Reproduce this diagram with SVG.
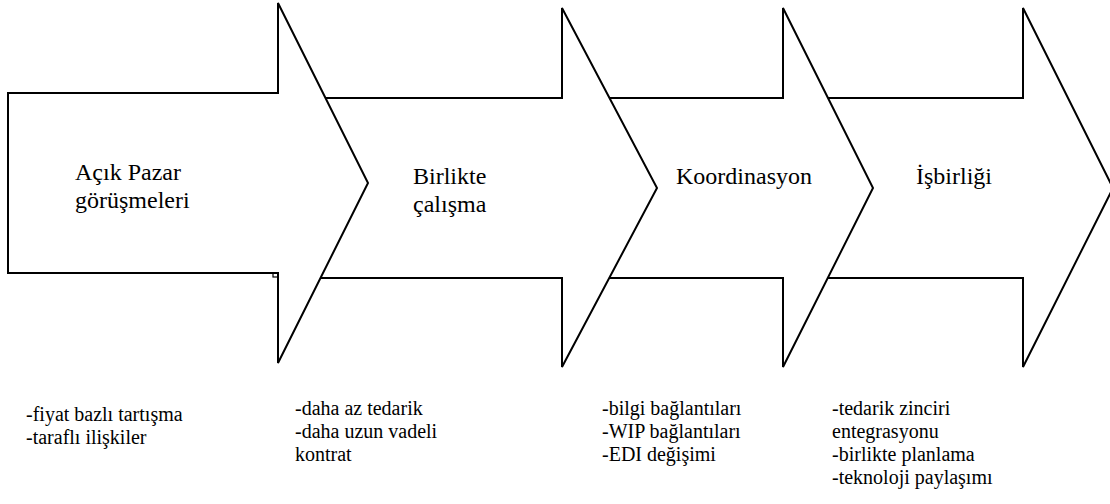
<svg xmlns="http://www.w3.org/2000/svg" width="1110" height="504" viewBox="0 0 1110 504">
  <style>
    .arrow { fill: #ffffff; stroke: #000000; stroke-width: 2; stroke-linejoin: miter; }
    .label { font-family: "Liberation Serif", Tinos, "Times New Roman", serif; font-size: 24px; fill: #000000; }
    .note { font-family: "Liberation Serif", Tinos, "Times New Roman", serif; font-size: 20px; fill: #000000; }
  </style>
  <rect width="1110" height="504" fill="#ffffff"/>

  <!-- stages drawn right to left so each arrow overlaps the next one -->
  <g id="stage-isbirligi">
    <path class="arrow" d="M800,98 H1023 V8 L1113,188 L1023,367 V278 H800 Z"/>
    <text class="label" x="916" y="184">İşbirliği</text>
  </g>

  <g id="stage-koordinasyon">
    <path class="arrow" d="M590,98 H783 V8 L873,188 L783,367 V278 H590 Z"/>
    <text class="label" x="676" y="184">Koordinasyon</text>
  </g>

  <g id="stage-birlikte">
    <path class="arrow" d="M290,98 H562 V8 L657,188 L562,367 V278 H290 Z"/>
    <text class="label" x="413" y="184">Birlikte</text>
    <text class="label" x="413" y="212">çalışma</text>
  </g>

  <g id="stage-acik-pazar">
    <path class="arrow" d="M8,93 H278 V3 L368,183 L278,363 V273 H8 Z"/>
    <rect x="273" y="273" width="5" height="4" fill="none" stroke="#000000" stroke-width="1.2"/>
    <text class="label" x="75" y="180">Açık Pazar</text>
    <text class="label" x="75" y="208">görüşmeleri</text>
  </g>

  <!-- characteristics listed under each stage -->
  <g id="notes-acik-pazar">
    <text class="note" x="26" y="421">-fiyat bazlı tartışma</text>
    <text class="note" x="26" y="444">-taraflı ilişkiler</text>
  </g>

  <g id="notes-birlikte">
    <text class="note" x="295" y="415">-daha az tedarik</text>
    <text class="note" x="295" y="438">-daha uzun vadeli</text>
    <text class="note" x="295" y="461">kontrat</text>
  </g>

  <g id="notes-koordinasyon">
    <text class="note" x="602" y="415">-bilgi bağlantıları</text>
    <text class="note" x="602" y="438">-WIP bağlantıları</text>
    <text class="note" x="602" y="461">-EDI değişimi</text>
  </g>

  <g id="notes-isbirligi">
    <text class="note" x="832" y="415">-tedarik zinciri</text>
    <text class="note" x="832" y="438">entegrasyonu</text>
    <text class="note" x="832" y="461">-birlikte planlama</text>
    <text class="note" x="832" y="484">-teknoloji paylaşımı</text>
  </g>

  <!-- the stages touch one another directly; no separate connector lines -->
  <g id="connectors"/>
</svg>
